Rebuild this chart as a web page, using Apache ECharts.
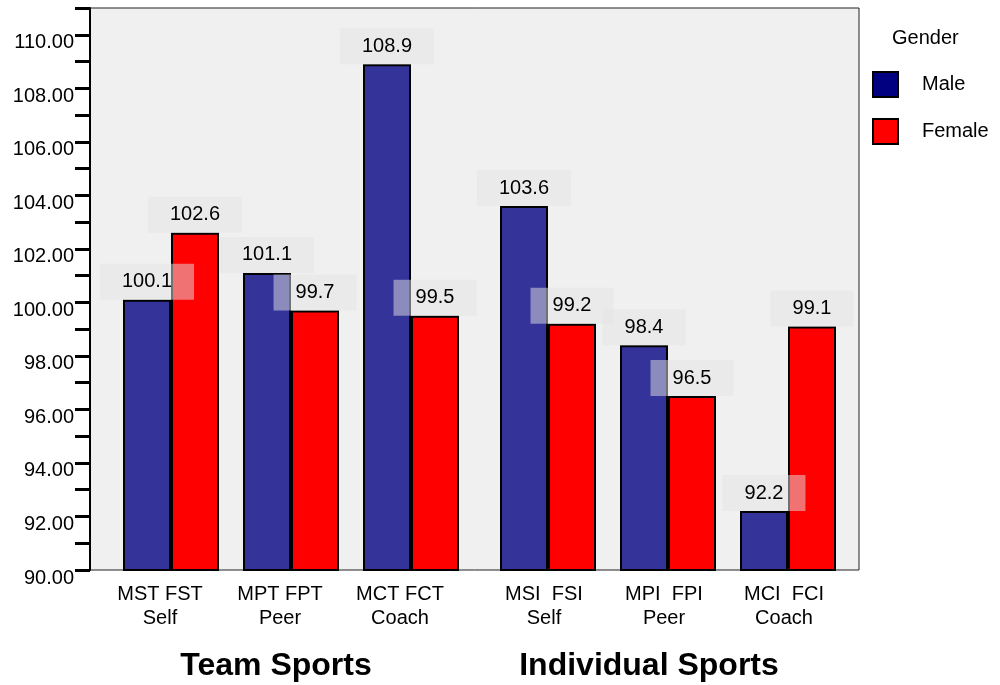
<!DOCTYPE html>
<html>
<head>
<meta charset="utf-8">
<title>Team vs Individual Sports by Gender</title>
<script src="https://cdn.jsdelivr.net/npm/echarts@6/dist/echarts.min.js"></script>
<style>
  html, body { margin: 0; padding: 0; background: #ffffff; }
  #chart { width: 1000px; height: 685px; }
</style>
</head>
<body>
<div id="chart"></div>
<script>
// Category labels for each group of bars
const teamCategories = ['MST FST\nSelf', 'MPT FPT\nPeer', 'MCT FCT\nCoach'];
const individualCategories = ['MSI  FSI\nSelf', 'MPI  FPI\nPeer', 'MCI  FCI\nCoach'];

// Mean scores
const maleTeam = [100.1, 101.1, 108.9];
const femaleTeam = [102.6, 99.7, 99.5];
const maleIndividual = [103.6, 98.4, 92.2];
const femaleIndividual = [99.2, 96.5, 99.1];

const groupTitles = ['Team Sports', 'Individual Sports'];
const legendTitle = 'Gender';
const seriesNames = ['Male', 'Female'];

const FONT = '"Liberation Sans", Arial, sans-serif';
const MALE_COLOR = '#333399';
const MALE_LEGEND = '#000080';
const FEMALE_COLOR = '#ff0000';
const Y_MIN = 90, Y_MAX = 111;

const chart = echarts.init(document.getElementById('chart'), null, { renderer: 'canvas' });

const valueLabel = {
  show: true,
  position: 'top',
  distance: 0,
  fontFamily: FONT,
  fontSize: 20,
  color: '#000',
  backgroundColor: 'rgba(228,228,228,0.5)',
  padding: [8, 22, 8, 22],
  formatter: p => p.value.toFixed(1)
};

function barSeries(name, data, axisIndex, color) {
  return {
    type: 'bar',
    name: name,
    xAxisIndex: axisIndex,
    yAxisIndex: axisIndex,
    data: data,
    barWidth: 48,
    barGap: '0%',
    itemStyle: { color: color, borderColor: '#000', borderWidth: 2 },
    label: valueLabel,
    labelLayout: { hideOverlap: false },
    z: 3
  };
}

function groupAxis(gridIndex, categories, title, shift, titleShift) {
  return {
    type: 'category',
    gridIndex: gridIndex,
    data: categories,
    axisLine: { show: false },
    axisTick: { show: false },
    axisLabel: {
      fontFamily: FONT,
      fontSize: 20,
      color: '#000',
      lineHeight: 24,
      margin: 12,
      padding: [0, shift, 0, 0]
    },
    name: title,
    nameLocation: 'middle',
    nameGap: 80,
    nameTextStyle: {
      fontFamily: FONT,
      fontSize: 32,
      fontWeight: 'bold',
      color: '#000',
      padding: [0, titleShift, 0, 0]
    }
  };
}

function hiddenValueAxis(gridIndex) {
  return { type: 'value', gridIndex: gridIndex, min: Y_MIN, max: Y_MAX, interval: 1, show: false };
}

const option = {
  animation: false,
  title: {
    text: legendTitle,
    left: 887,
    top: 23,
    textStyle: { fontFamily: FONT, fontSize: 20, fontWeight: 'normal', color: '#000' }
  },
  legend: {
    orient: 'vertical',
    left: 867,
    top: 66,
    itemWidth: 25,
    itemHeight: 25,
    itemGap: 20,
    icon: 'rect',
    data: [
      { name: seriesNames[0], itemStyle: { color: MALE_LEGEND, borderColor: '#000', borderWidth: 2 } },
      { name: seriesNames[1], itemStyle: { color: FEMALE_COLOR, borderColor: '#000', borderWidth: 2 } }
    ],
    textStyle: { fontFamily: FONT, fontSize: 20, color: '#000', padding: [0, 0, 0, 19] }
  },
  grid: [
    // plotting frame with the shared value axis
    { left: 90, top: 8, width: 769, height: 562, outerBoundsMode: 'none', containLabel: false, show: true, backgroundColor: '#f0f0f0', borderColor: '#222', borderWidth: 1, z: 0 },
    // team sports groups
    { left: 111, top: 8, width: 360, height: 562, outerBoundsMode: 'none', containLabel: false },
    // individual sports groups
    { left: 488, top: 8, width: 360, height: 562, outerBoundsMode: 'none', containLabel: false }
  ],
  xAxis: [
    { type: 'category', gridIndex: 0, data: [''], show: false },
    groupAxis(1, teamCategories, groupTitles[0], 22, 30),
    groupAxis(2, individualCategories, groupTitles[1], 8, 38)
  ],
  yAxis: [
    {
      type: 'value',
      gridIndex: 0,
      min: Y_MIN,
      max: Y_MAX,
      interval: 1,
      splitLine: { show: false },
      axisLine: { show: true, lineStyle: { color: '#000', width: 2 } },
      axisTick: { show: true, length: 15, inside: false, lineStyle: { color: '#000', width: 3 } },
      axisLabel: {
        fontFamily: FONT,
        fontSize: 20,
        color: '#000',
        margin: 16,
        verticalAlign: 'top',
        padding: [-2, 0, 0, 0],
        formatter: v => (v % 2 === 0 ? v.toFixed(2) : '')
      }
    },
    hiddenValueAxis(1),
    hiddenValueAxis(2)
  ],
  series: [
    barSeries(seriesNames[0], maleTeam, 1, MALE_COLOR),
    barSeries(seriesNames[1], femaleTeam, 1, FEMALE_COLOR),
    barSeries(seriesNames[0], maleIndividual, 2, MALE_COLOR),
    barSeries(seriesNames[1], femaleIndividual, 2, FEMALE_COLOR)
  ]
};

chart.setOption(option);
</script>
</body>
</html>
